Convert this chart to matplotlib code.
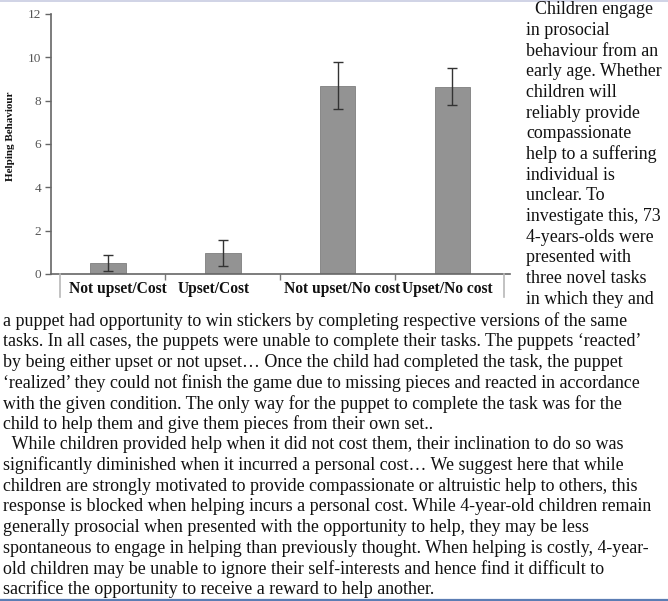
import matplotlib
matplotlib.use("Agg")
import matplotlib.pyplot as plt
from matplotlib.lines import Line2D
import matplotlib.transforms as mtransforms

# ---- data ----
categories = ["Not upset/Cost", "Upset/Cost", "Not upset/No cost", "Upset/No cost"]
means = [0.52, 0.98, 8.70, 8.65]
errors = [0.37, 0.61, 1.10, 0.85]
y_ticks = [0, 2, 4, 6, 8, 10, 12]
y_label = "Helping Behaviour"

column_lines = [
    "  Children engage",
    "in prosocial",
    "behaviour from an",
    "early age. Whether",
    "children will",
    "reliably provide",
    "compassionate",
    "help to a suffering",
    "individual is",
    "unclear. To",
    "investigate this, 73",
    "4-years-olds were",
    "presented with",
    "three novel tasks",
    "in which they and",
]
full_lines = [
    "a puppet had opportunity to win stickers by completing respective versions of the same",
    "tasks. In all cases, the puppets were unable to complete their tasks. The puppets \u2018reacted\u2019",
    "by being either upset or not upset\u2026 Once the child had completed the task, the puppet",
    "\u2018realized\u2019 they could not finish the game due to missing pieces and reacted in accordance",
    "with the given condition. The only way for the puppet to complete the task was for the",
    "child to help them and give them pieces from their own set..",
    "  While children provided help when it did not cost them, their inclination to do so was",
    "significantly diminished when it incurred a personal cost\u2026 We suggest here that while",
    "children are strongly motivated to provide compassionate or altruistic help to others, this",
    "response is blocked when helping incurs a personal cost. While 4-year-old children remain",
    "generally prosocial when presented with the opportunity to help, they may be less",
    "spontaneous to engage in helping than previously thought. When helping is costly, 4-year-",
    "old children may be unable to ignore their self-interests and hence find it difficult to",
    "sacrifice the opportunity to receive a reward to help another.",
]

W, H = 668, 601
fig = plt.figure(figsize=(W / 100, H / 100), dpi=100)
fig.patch.set_facecolor("white")

def px(x, y):
    """pixel (from top-left) -> figure fraction"""
    return x / W, 1 - y / H

# axes geometry in pixels
ax_l, ax_r, ax_t, ax_b = 50.7, 509.7, 14, 274
ax = fig.add_axes([ax_l / W, 1 - ax_b / H, (ax_r - ax_l) / W, (ax_b - ax_t) / H])

serif = ["Liberation Serif", "DejaVu Serif"]
xpos = list(range(len(categories)))
ax.bar(xpos, means, width=0.31, color="#939393", edgecolor="#7e7e7e", linewidth=0.6, zorder=2)
ax.errorbar(xpos, means, yerr=errors, fmt="none", ecolor="#333333", elinewidth=1.0,
            capsize=3.5, capthick=1.0, zorder=3)

ax.set_xlim(-0.5, 3.5)
ax.set_ylim(0, 12)
ax.set_yticks(y_ticks)
ax.set_yticklabels([str(t) for t in y_ticks], fontfamily=serif, fontsize=9.5, color="#555555")
ax.tick_params(axis="y", direction="out", length=4, width=1.0, color="#666666", pad=3)

ax.set_xticks(xpos)
ax.set_xticklabels(categories, fontfamily=serif, fontsize=11.2, fontweight="bold", color="#111111")
ax.tick_params(axis="x", which="major", length=0, pad=5)
ax.set_xticks([0.5, 1.5, 2.5], minor=True)
ax.tick_params(axis="x", which="minor", direction="out", length=4, width=1.0, color="#777777")
offsets = [10, -9, 5, -5]
for lbl, dx in zip(ax.get_xticklabels(), offsets):
    lbl.set_transform(lbl.get_transform() + mtransforms.ScaledTranslation(dx / 100, 0, fig.dpi_scale_trans))

for s in ["top", "right"]:
    ax.spines[s].set_visible(False)
ax.spines["left"].set_color("#666666")
ax.spines["bottom"].set_color("#666666")
ax.spines["left"].set_linewidth(1.2)
ax.spines["bottom"].set_linewidth(1.2)
ax.set_facecolor("none")

ax.set_ylabel(y_label, fontfamily=serif, fontsize=8, fontweight="bold", color="#111111")
ax.yaxis.set_label_coords(-(ax_l - 15) / (ax_r - ax_l), 0.53)

# label box below the axis
box_col = "#b8b8b8"
for x in (60, 504):
    fig.add_artist(Line2D([px(x, 0)[0]] * 2, [px(0, 274)[1], px(0, 297)[1]], color=box_col, lw=1.2))

# decorative page borders
fig.add_artist(Line2D([0, 1], [px(0, 0.5)[1]] * 2, color="#c8cce2", lw=1.2))
fig.add_artist(Line2D([0, 1], [px(0, 599.5)[1]] * 2, color="#5b7db4", lw=1.6))

# text
tf = dict(fontfamily=serif, fontsize=12.85, color="#111111", va="center", ha="left")
sp = 20.65
for i, line in enumerate(column_lines):
    fig.text(*px(526, 10 + i * sp), line, **tf)
for i, line in enumerate(full_lines):
    fig.text(*px(3, 321 + i * sp), line, **tf)

fig.savefig("out.png", dpi=100, facecolor="white")
